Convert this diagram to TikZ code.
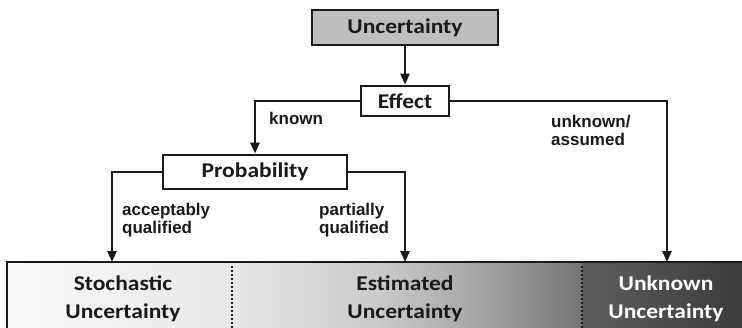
\documentclass[tikz,border=0pt]{standalone}
\usepackage{fontspec}
\usetikzlibrary{arrows.meta}
\newfontfamily\boxfont{Carlito}[FakeStretch=1.12]
\newfontfamily\labelfont{Liberation Sans}
\definecolor{ink}{HTML}{1A1A1A}
\definecolor{uncfill}{HTML}{BEBEBE}
\definecolor{shA}{HTML}{FBFBFB}
\definecolor{shB}{HTML}{E6E6E6}
\definecolor{shC}{HTML}{CACACA}
\definecolor{shD}{HTML}{A0A0A0}
\definecolor{shE}{HTML}{747474}
\definecolor{shF}{HTML}{5E5E5E}
\definecolor{shG}{HTML}{3A3A3A}
\begin{document}
\begin{tikzpicture}[x=1pt,y=-1pt,
  box/.style={draw=ink, line width=2.8pt, inner sep=0pt, text=ink,
    font=\boxfont\bfseries\fontsize{21}{27}\selectfont},
  conn/.style={draw=ink, line width=2.6pt, -{Triangle[length=11pt,width=9pt]}},
  lbl/.style={font=\labelfont\bfseries\fontsize{17}{17.5}\selectfont,
    align=left, inner sep=0pt, anchor=base west, text=ink},
  kind/.style={font=\boxfont\bfseries\fontsize{21}{28}\selectfont,
    align=center, inner sep=0pt, anchor=base},
  sep/.style={draw=ink, line width=2.6pt, dash pattern=on 2pt off 2pt}]

\useasboundingbox (0,0) rectangle (742,327);
\fill[white] (0,0) rectangle (742,327);

% graded band of uncertainty kinds along the bottom
\begin{scope}
  \clip (0,0) rectangle (742,327);
  \shade[left color=shA, right color=shB] (7,262) rectangle (233,340);
  \shade[left color=shB, right color=shC] (232,262) rectangle (381,340);
  \shade[left color=shC, right color=shD] (380,262) rectangle (491,340);
  \shade[left color=shD, right color=shE] (490,262) rectangle (583,340);
  \shade[left color=shF, right color=shG] (582,262) rectangle (750,340);
  \draw[ink, line width=2.8pt] (7,345) -- (7,262) -- (750,262);
  \draw[sep] (232,266) -- (232,330);
  \draw[sep] (582,266) -- (582,330);
\end{scope}

\node[kind, text=ink] (stoch) at (123,318) {Stochastic\\Uncertainty};
\node[kind, text=ink] (est) at (405,318) {Estimated\\Uncertainty};
\node[kind, text=white] (unk) at (666,318) {Unknown\\Uncertainty};

\coordinate (stochtop) at (112,262);
\coordinate (esttop) at (405,262);
\coordinate (unktop) at (667,262);

% decision boxes
\node[box, fill=uncfill, minimum width=186pt, minimum height=35pt] (unc) at (405,27.5) {Uncertainty};
\node[box, fill=white, minimum width=88pt, minimum height=30pt] (eff) at (405,101) {Effect};
\node[box, fill=white, minimum width=184pt, minimum height=34pt] (prob) at (255,172) {Probability};

% connectors
\draw[conn] (unc) -- (eff);
\draw[conn] (eff.west) -| (prob.north);
\draw[conn] (eff.east) -| (unktop);
\draw[conn] (prob.west) -| (stochtop);
\draw[conn] (prob.east) -| (esttop);

% branch labels
\node[lbl] (known) at (269,124) {known};
\node[lbl] (unkn) at (551,145) {unknown/\\assumed};
\node[lbl] (acc) at (122,233) {acceptably\\qualified};
\node[lbl] (part) at (319,233) {partially\\qualified};
\end{tikzpicture}
\end{document}
